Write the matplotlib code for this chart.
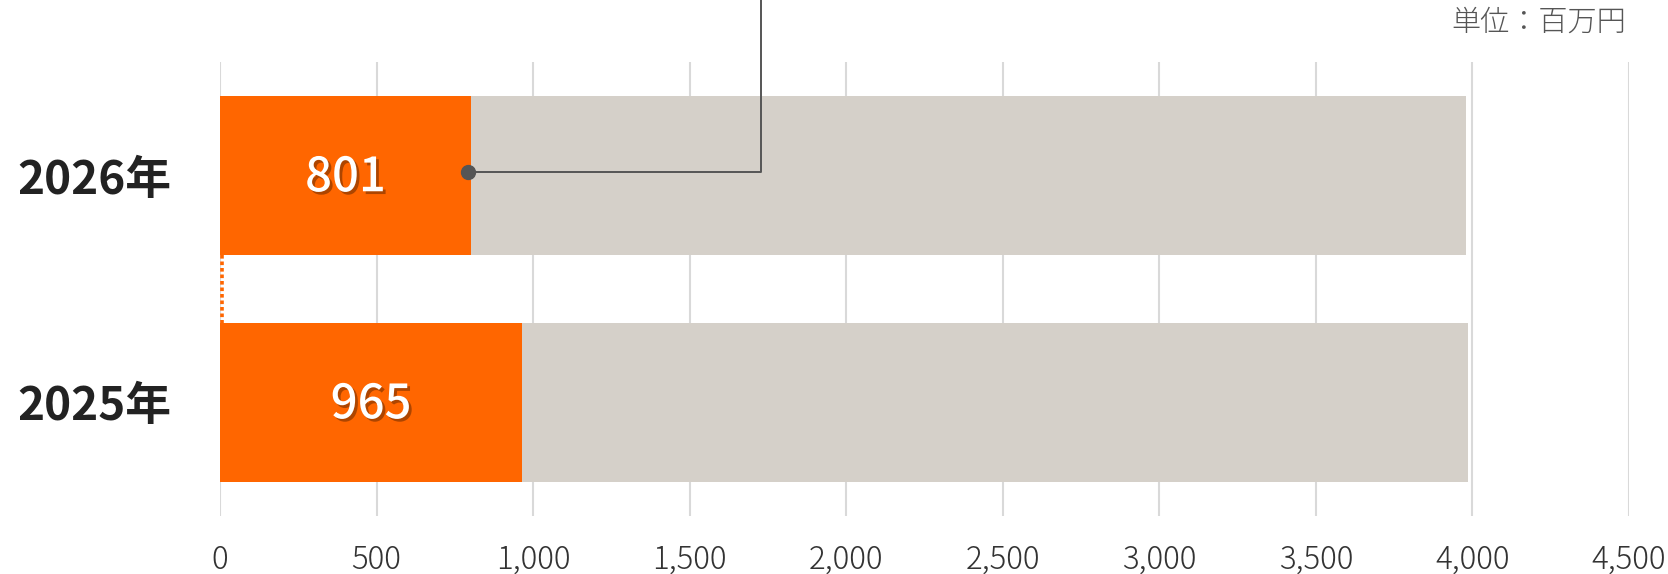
import matplotlib
matplotlib.use('Agg')
import matplotlib.pyplot as plt
import matplotlib.patheffects as pe

plt.rcParams['font.family'] = ['Noto Sans CJK JP', 'DejaVu Sans']

# ── Data ──────────────────────────────────────────────────────────────────────
years   = ['2026年', '2025年']
values  = [801, 965]          # 百万円
totals  = [3980, 3985]        # full bar length (background)
x_ticks = [0, 500, 1000, 1500, 2000, 2500, 3000, 3500, 4000, 4500]
unit    = '単位：百万円'

ORANGE = '#ff6600'
GRAY   = '#d5d0c9'
GRID   = '#d9d9d9'
DARK   = '#555555'

fig = plt.figure(figsize=(16.68, 5.74), dpi=100)
ax = fig.add_axes([220 / 1668, 1 - 516 / 574, 1409 / 1668, 454 / 574])

ypos = list(range(len(years)))
bar_h = 0.70

# background bars, then the value part on top
ax.barh(ypos, [t - v for t, v in zip(totals, values)], left=values,
        height=bar_h, color=GRAY, zorder=2)
ax.barh(ypos, values, height=bar_h, color=ORANGE, zorder=3)

shadow = [pe.withSimplePatchShadow(offset=(2, -2), shadow_rgbFace='#6b2a00',
                                   alpha=0.55)]
for y, v in zip(ypos, values):
    ax.text(v / 2, y + 0.01, f'{v:,}', ha='center', va='center', fontsize=34,
            color='white', fontweight='medium', zorder=5, path_effects=shadow)

# dotted link between the two bars along the baseline
ax.plot([7, 7], [ypos[0] + bar_h / 2, ypos[1] - bar_h / 2], color=ORANGE,
        lw=2.6, ls=(0, (1.0, 0.8)), zorder=4, solid_capstyle='butt')

# callout from the end of the 2026 bar
cx = values[0] - 8
ax.plot([cx, 1728, 1728], [-0.014, -0.014, -1.0], color=DARK, lw=1.4,
        zorder=6, clip_on=False)
ax.plot(cx, -0.014, 'o', color=DARK, ms=10, zorder=7, clip_on=False)

# axes
ax.set_xlim(0, 4500)
ax.set_ylim(1.5, -0.5)
ax.set_xticks(x_ticks)
ax.set_xticklabels([f'{t:,}' for t in x_ticks], fontsize=22.5,
                   fontweight='light', color='#333333')
ax.set_yticks(ypos)
ax.set_yticklabels(years, fontsize=33, fontweight='bold', color='#222222')
ax.tick_params(axis='x', length=0, pad=20)
ax.tick_params(axis='y', length=0, pad=35)
ax.grid(axis='x', color=GRID, lw=1.5, zorder=0)
ax.set_axisbelow(True)
for s in ax.spines.values():
    s.set_visible(False)

fig.text(1626 / 1668, 1 - 22 / 574, unit, ha='right', va='center',
         fontsize=21, color=DARK, fontweight='light')

fig.savefig('out.png', dpi=100)
